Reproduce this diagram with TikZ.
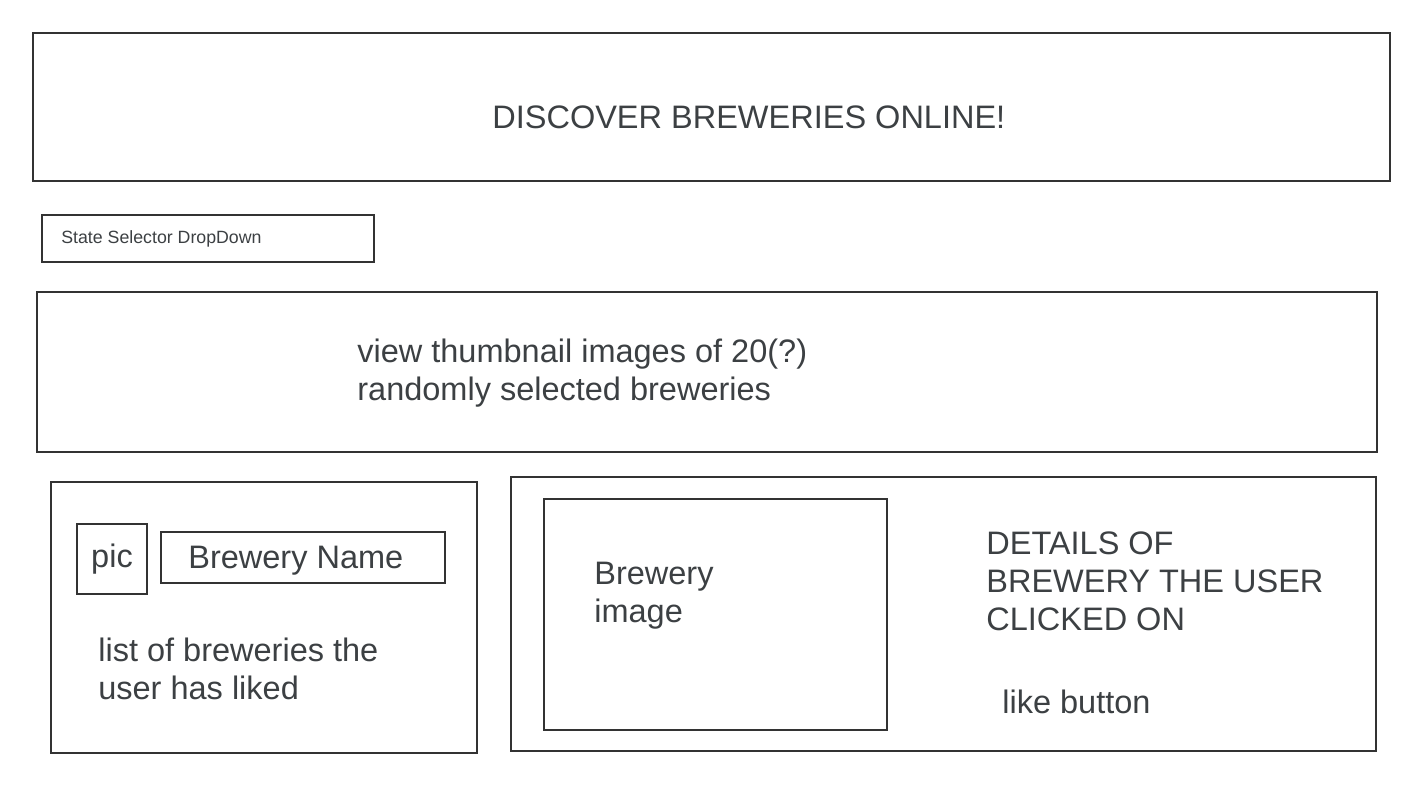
\documentclass[tikz,border=0pt]{standalone}
\usepackage{fontspec}
\setmainfont{Liberation Sans}
\usepackage{xcolor}
\usetikzlibrary{positioning}
\definecolor{wireline}{HTML}{333333}
\definecolor{wiretext}{HTML}{3C4043}

\begin{document}
\begin{tikzpicture}[
  x=0.02cm, y=-0.02cm,
  frame/.style={draw=wireline, line width=1.1pt, anchor=north west, inner sep=0pt, outer sep=0pt},
  label/.style={text=wiretext, anchor=base west, inner sep=0pt, align=left,
    font=\fontsize{18.5}{21.6}\selectfont},
  smalllabel/.style={label, font=\fontsize{10.1}{12}\selectfont}
]
  \useasboundingbox (0,0) rectangle (1422,800);

  % page sections
  \node[frame, minimum width=27.14cm, minimum height=2.96cm] (title) at (33,33) {};
  \node[frame, minimum width=6.64cm, minimum height=0.94cm] (drop) at (42,215) {};
  \node[frame, minimum width=26.8cm, minimum height=3.2cm] (thumbs) at (37,292) {};
  \node[frame, minimum width=8.52cm, minimum height=5.42cm] (liked) at (51,482) {};
  \node[frame, minimum width=17.3cm, minimum height=5.48cm] (details) at (511,477) {};

  % inner boxes
  \node[frame, minimum width=1.4cm, minimum height=1.4cm] (pic) at (77,524) {};
  \node[frame, minimum width=5.68cm, minimum height=1.02cm] (name) at (161,532) {};
  \node[frame, minimum width=6.86cm, minimum height=4.62cm] (image) at (544,499) {};

  % texts (base = last line)
  \node[label] (titletxt) at (492,129) {DISCOVER BREWERIES ONLINE!};
  \node[smalllabel] (droptxt) at (61,244) {State Selector DropDown};
  \node[label] (thumbstxt) at (357,400) {view thumbnail images of 20(?)\\randomly selected breweries};
  \node[label, anchor=center] (pictxt) at (pic.center) {pic};
  \node[label] (nametxt) at (188,568) {Brewery Name};
  \node[label] (likedtxt) at (98,699) {list of breweries the\\user has liked};
  \node[label] (imagetxt) at (594,622) {Brewery\\image};
  \node[label] (detailstxt) at (986,630) {DETAILS OF\\BREWERY THE USER\\CLICKED ON};
  \node[label] (liketxt) at (1002,713) {like button};
\end{tikzpicture}
\end{document}
